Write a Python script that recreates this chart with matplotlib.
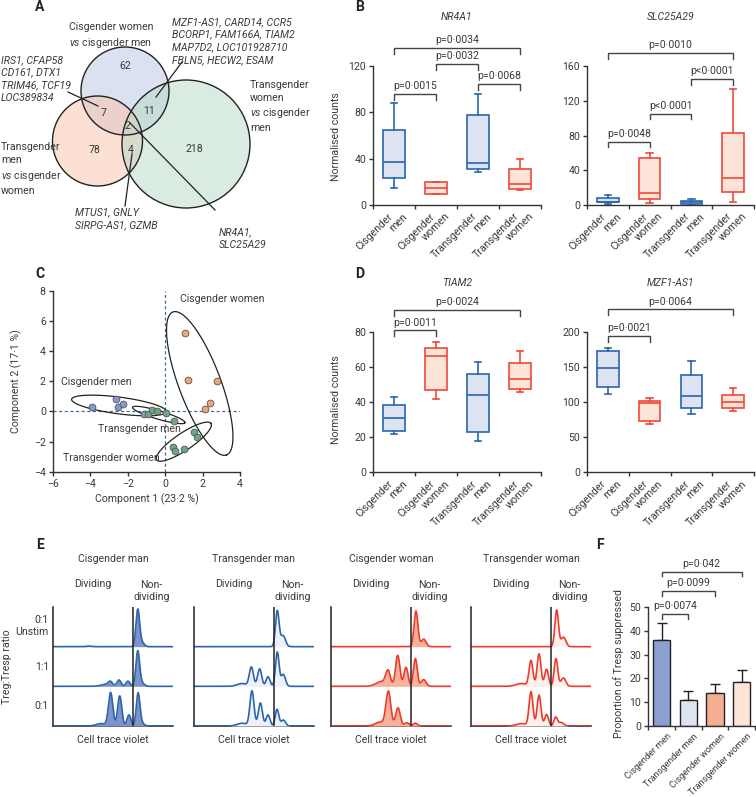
import numpy as np
import matplotlib
matplotlib.use('Agg')
import matplotlib.pyplot as plt
from matplotlib.patches import Circle

plt.rcParams['font.family'] = ['Roboto', 'DejaVu Sans']
plt.rcParams['mathtext.fontset'] = 'custom'
plt.rcParams['mathtext.it'] = 'Roboto:italic'
plt.rcParams['mathtext.rm'] = 'Roboto'

# ----------------------------- data -----------------------------
venn_counts = [62, 78, 218, 7, 11, 4, 2]   # cisW-cisM, transM-cisW, transW-cisM, AB, AC, BC, ABC
venn_sets = ['Cisgender women\n$\\it{vs}$ cisgender men',
             'Transgender\nmen\n$\\it{vs}$ cisgender\nwomen',
             'Transgender\nwomen\n$\\it{vs}$ cisgender\nmen']
venn_genes_ab = 'IRS1, CFAP58\nCD161, DTX1\nTRIM46, TCF19\nLOC389834'
venn_genes_ac = 'MZF1-AS1, CARD14, CCR5\nBCORP1, FAM166A, TIAM2\nMAP7D2, LOC101928710\nFBLN5, HECW2, ESAM'
venn_genes_bc = 'MTUS1, GNLY\nSIRPG-AS1, GZMB'
venn_genes_abc = 'NR4A1,\nSLC25A29'

group_words = [('Cisgender', 'men'), ('Cisgender', 'women'),
               ('Transgender', 'men'), ('Transgender', 'women')]
group_sex = ['m', 'w', 'm', 'w']

nr4a1_whislo = [15, 9.5, 28.5, 13]
nr4a1_q1 = [23.5, 9.5, 31, 14]
nr4a1_med = [37, 14.5, 36, 18]
nr4a1_q3 = [65, 20, 78, 31]
nr4a1_whishi = [88, 20, 96, 40]
nr4a1_brackets = [(0, 3, 135.5, 'p=0·0034'), (1, 2, 121.7, 'p=0·0032'),
                  (0, 1, 95.8, 'p=0·0015'), (2, 3, 104.5, 'p=0·0068')]

slc_whislo = [1, 2, 0.5, 3]
slc_q1 = [3, 6.5, 1.5, 15]
slc_med = [4, 14, 3, 31]
slc_q3 = [8.5, 54, 5, 82.5]
slc_whishi = [12, 60, 7, 133]
slc_brackets = [(0, 3, 175, 'p=0·0010'), (2, 3, 145, 'p<0·0001'),
                (1, 2, 105, 'p<0·0001'), (0, 1, 73, 'p=0·0048')]

tiam_whislo = [22, 41.5, 18, 45.5]
tiam_q1 = [23.5, 47, 22.8, 47.4]
tiam_med = [31, 66, 44, 53]
tiam_q3 = [38.3, 71, 56, 62]
tiam_whishi = [43, 74.3, 63, 69]
tiam_brackets = [(0, 3, 92.4, 'p=0·0024'), (0, 1, 80.8, 'p=0·0011')]

mzf_whislo = [112, 68, 82.5, 87]
mzf_q1 = [122, 73.5, 91, 92]
mzf_med = [149, 98, 108.5, 100]
mzf_q3 = [172.5, 102, 139, 110]
mzf_whishi = [177, 105, 159, 120]
mzf_brackets = [(0, 3, 231.7, 'p=0·0064'), (0, 1, 193.8, 'p=0·0021')]

pca_cis_men_x = [-3.92, -2.6, -2.5, -2.26, -1.12]
pca_cis_men_y = [0.31, 0.84, 0.27, 0.49, -0.2]
pca_trans_men_x = [-0.93, -0.71, -0.45, 0.05, 0.48]
pca_trans_men_y = [-0.18, 0.09, 0.0, -0.13, -0.64]
pca_trans_women_x = [1.56, 1.72, 0.44, 0.53, 0.99]
pca_trans_women_y = [-1.37, -1.68, -2.34, -2.61, -2.5]
pca_cis_women_x = [1.06, 1.24, 2.79, 2.42, 2.11]
pca_cis_women_y = [5.17, 2.06, 1.99, 0.53, 0.13]

# flow histogram peaks: (position, height, width) per row (0:1 Unstim, 1:1, 0:1)
hist_titles = ['Cisgender man', 'Transgender man', 'Cisgender woman', 'Transgender woman']
hist_cis_man = [
    [(0.706, 0.90, 0.015), (0.735, 0.12, 0.022), (0.30, 0.015, 0.02)],
    [(0.44, 0.05, 0.04), (0.478, 0.10, 0.017), (0.55, 0.16, 0.017), (0.625, 0.13, 0.017),
     (0.706, 0.86, 0.015), (0.735, 0.10, 0.022)],
    [(0.40, 0.06, 0.04), (0.48, 0.84, 0.018), (0.556, 0.76, 0.017), (0.633, 0.28, 0.016),
     (0.709, 0.80, 0.015), (0.735, 0.08, 0.022)]]
hist_trans_man = [
    [(0.694, 0.90, 0.015), (0.742, 0.28, 0.02)],
    [(0.40, 0.07, 0.04), (0.478, 0.48, 0.017), (0.547, 0.44, 0.017), (0.617, 0.24, 0.016),
     (0.694, 0.86, 0.015), (0.744, 0.30, 0.018)],
    [(0.40, 0.07, 0.04), (0.483, 0.88, 0.017), (0.553, 0.58, 0.017), (0.617, 0.28, 0.016),
     (0.692, 0.42, 0.015), (0.744, 0.15, 0.018)]]
hist_cis_woman = [
    [(0.708, 0.90, 0.016), (0.772, 0.19, 0.02)],
    [(0.42, 0.12, 0.045), (0.475, 0.36, 0.019), (0.556, 0.78, 0.018), (0.625, 0.48, 0.017),
     (0.703, 0.70, 0.016), (0.772, 0.17, 0.02)],
    [(0.41, 0.10, 0.04), (0.478, 0.86, 0.02), (0.558, 0.46, 0.019), (0.633, 0.08, 0.02),
     (0.703, 0.07, 0.017)]]
hist_trans_woman = [
    [(0.714, 0.92, 0.015), (0.77, 0.24, 0.02)],
    [(0.42, 0.07, 0.045), (0.50, 0.64, 0.016), (0.567, 0.82, 0.016), (0.63, 0.43, 0.016),
     (0.708, 0.70, 0.015), (0.77, 0.21, 0.02)],
    [(0.42, 0.06, 0.04), (0.50, 0.86, 0.016), (0.567, 0.78, 0.016), (0.63, 0.29, 0.016),
     (0.706, 0.22, 0.015), (0.752, 0.09, 0.02)]]
hist_row_labels = ['0:1\nUnstim', '1:1', '0:1']

f_groups = ['Cisgender men', 'Transgender men', 'Cisgender women', 'Transgender women']
f_means = [36.2, 10.8, 13.8, 18.3]
f_err = [7.0, 3.8, 3.8, 5.1]
f_brackets = [(0, 1, 47.2, 'p=0·0074'), (0, 2, 56.9, 'p=0·0099'), (0, 3, 65.1, 'p=0·042')]

# ----------------------------- style -----------------------------
W, H = 756, 797
TXT = '#3a3a3a'
AX = '#333333'
BLUE_E, BLUE_F = '#2a66b0', '#dde3f1'
RED_E, RED_F = '#f0483b', '#fde4d8'
FS = 7.6

fig = plt.figure(figsize=(W / 100, H / 100), dpi=100)
fig.patch.set_facecolor('white')


def px_axes(x0, y0, x1, y1, **kw):
    return fig.add_axes([x0 / W, 1 - y1 / H, (x1 - x0) / W, (y1 - y0) / H], **kw)


# overlay in pixel coordinates
ov = px_axes(0, 0, W, H)
ov.set_xlim(0, W)
ov.set_ylim(H, 0)
ov.axis('off')


def t(x, y, s, **kw):
    kw.setdefault('fontsize', FS)
    kw.setdefault('color', TXT)
    kw.setdefault('va', 'center')
    ov.text(x, y, s, **kw)


for lab, (x, y) in zip('ABCDEF', [(40, 7), (360, 7), (40, 274), (360, 274), (40, 545), (600, 545)]):
    t(x, y, lab, fontsize=10, fontweight='bold', ha='center', color='#222222')

# ----------------------------- A: Venn -----------------------------
circ_geo = [((125, 91), 44, '#b9c5e2'), ((97.5, 141), 45, '#fbc3a8'), ((186, 144), 64, '#b6d8c4')]
for (c, r, col) in circ_geo:
    ov.add_patch(Circle(c, r, facecolor=col, alpha=0.5, edgecolor='none', zorder=1))
for (c, r, col) in circ_geo:
    ov.add_patch(Circle(c, r, facecolor='none', edgecolor='#222222', lw=1.0, zorder=2))
count_pos = [(125, 66), (94, 150), (194, 149), (103, 113), (149, 111), (131, 150), (127, 126)]
for n, (x, y) in zip(venn_counts, count_pos):
    t(x, y, str(n), ha='center', zorder=3)
t(69, 36, venn_sets[0], ha='left', linespacing=1.35)
t(1, 169, venn_sets[1], ha='left', linespacing=1.35)
t(250, 106.5, venn_sets[2], ha='left', linespacing=1.35)
t(1, 79, venn_genes_ab, ha='left', style='italic', linespacing=1.35)
t(172, 41, venn_genes_ac, ha='left', style='italic', linespacing=1.35)
t(75, 219, venn_genes_bc, ha='left', style='italic', linespacing=1.35)
t(219, 239, venn_genes_abc, ha='left', style='italic', linespacing=1.35)
for (x0, y0, x1, y1) in [(68, 92, 98, 106), (182, 62, 156, 97), (132, 154, 125, 206), (130, 123, 215, 210)]:
    ov.plot([x0, x1], [y0, y1], color='#222222', lw=0.9, zorder=4)


# ----------------------------- helpers -----------------------------
def style_axes(ax):
    for s in ['top', 'right']:
        ax.spines[s].set_visible(False)
    for s in ['left', 'bottom']:
        ax.spines[s].set_color(AX)
        ax.spines[s].set_linewidth(1.0)
    ax.tick_params(direction='out', length=3, width=1.0, color=AX, labelsize=FS,
                   labelcolor=TXT, pad=2)
    ax.patch.set_alpha(0)


def bracket(ax, i, j, y, label, leg):
    ax.plot([i, i, j, j], [y - leg, y, y, y - leg], color='#444444', lw=1.0,
            clip_on=False, solid_joinstyle='miter')
    ax.annotate(label, xy=((i + j) / 2, y), xytext=(0, 2.0), textcoords='offset points',
                ha='center', va='bottom', fontsize=FS, color=TXT, annotation_clip=False)


def boxpanel(box, whislo, q1, med, q3, whishi, brackets, yticks, title, ylab=None, ylab_y=None):
    ax = px_axes(*box)
    style_axes(ax)
    stats = [dict(whislo=a, q1=b, med=c, q3=d, whishi=e, fliers=[])
             for a, b, c, d, e in zip(whislo, q1, med, q3, whishi)]
    for k, st in enumerate(stats):
        ec, fc = (BLUE_E, BLUE_F) if group_sex[k] == 'm' else (RED_E, RED_F)
        ax.bxp([st], positions=[k], widths=0.52, patch_artist=True, showfliers=False,
               capwidths=[0.16],
               boxprops=dict(facecolor=fc, edgecolor=ec, lw=1.2),
               medianprops=dict(color=ec, lw=1.2),
               whiskerprops=dict(color=ec, lw=1.2),
               capprops=dict(color=ec, lw=1.2))
    ax.set_xlim(-0.5, 3.5)
    ax.set_ylim(0, yticks[-1])
    ax.set_yticks(yticks)
    ax.set_xticks([-0.5, 0.5, 1.5, 2.5, 3.5])
    ax.set_xticklabels([])
    leg = 0.04 * yticks[-1]
    for (i, j, y, lab) in brackets:
        bracket(ax, i, j, y, lab, leg)
    tr = ax.get_xaxis_transform()
    for k, (w1, w2) in enumerate(group_words):
        ax.text(k - 0.16, -0.045, w1, transform=tr, rotation=45, ha='right', va='top',
                rotation_mode='anchor', fontsize=FS, color=TXT)
        ax.text(k + 0.2, -0.045, w2, transform=tr, rotation=45, ha='right', va='top',
                rotation_mode='anchor', fontsize=FS, color=TXT)
    x0, y0, x1, y1 = box
    t((x0 + x1) / 2, 17 if y0 < 200 else 283, title, ha='center', style='italic')
    if ylab:
        t(336, ylab_y, ylab, ha='center', rotation=90)
    return ax


# ----------------------------- B / D -----------------------------
boxpanel((373, 66, 541, 205), nr4a1_whislo, nr4a1_q1, nr4a1_med, nr4a1_q3, nr4a1_whishi,
         nr4a1_brackets, [0, 40, 80, 120], 'NR4A1', 'Normalised counts', 137)
boxpanel((587, 66, 754, 205), slc_whislo, slc_q1, slc_med, slc_q3, slc_whishi,
         slc_brackets, [0, 40, 80, 120, 160], 'SLC25A29')
boxpanel((373, 331.7, 541, 472.3), tiam_whislo, tiam_q1, tiam_med, tiam_q3, tiam_whishi,
         tiam_brackets, [0, 20, 40, 60, 80], 'TIAM2', 'Normalised counts', 400)
boxpanel((587, 331.7, 754, 472.3), mzf_whislo, mzf_q1, mzf_med, mzf_q3, mzf_whishi,
         mzf_brackets, [0, 50, 100, 150, 200], 'MZF1-AS1')

# ----------------------------- C: PCA -----------------------------
axc = px_axes(52.7, 290.7, 240, 471.7)
style_axes(axc)
axc.set_xlim(-6, 4)
axc.set_ylim(-4, 8)
axc.set_xticks([-6, -4, -2, 0, 2, 4])
axc.set_yticks([-4, -2, 0, 2, 4, 6, 8])
axc.axhline(0, color='#3f6f9f', lw=0.9, ls=(0, (2.5, 2)), zorder=1)
axc.axvline(0, color='#3f6f9f', lw=0.9, ls=(0, (2.5, 2)), zorder=1)
for xs, ys, col in [(pca_cis_men_x, pca_cis_men_y, '#8597cf'),
                    (pca_trans_men_x, pca_trans_men_y, '#6aa783'),
                    (pca_trans_women_x, pca_trans_women_y, '#6aa783'),
                    (pca_cis_women_x, pca_cis_women_y, '#f3a27c')]:
    axc.scatter(xs, ys, s=24, c=col, edgecolors='#555555', linewidths=0.6, zorder=3, clip_on=False)
# ellipses: centre, major half-vector, minor half-vector (data units)
ell_geo = [((-2.46, 0.39), (2.53, -0.41), (-0.06, -0.55)),
           ((-0.34, -0.24), (1.40, -0.51), (-0.06, -0.27)),
           ((1.85, 1.85), (1.43, -4.74), (1.05, 0.49)),
           ((1.0, -2.01), (1.45, 1.21), (0.26, -0.47))]
tt = np.linspace(0, 2 * np.pi, 200)
for (c, a, b) in ell_geo:
    axc.plot(c[0] + a[0] * np.cos(tt) + b[0] * np.sin(tt),
             c[1] + a[1] * np.cos(tt) + b[1] * np.sin(tt), color='#222222', lw=0.9, zorder=2)
for s, x, y in [('Cisgender women', 0.8, 7.43), ('Cisgender men', -5.57, 1.97),
                ('Transgender men', -3.56, -1.19), ('Transgender women', -5.43, -3.12)]:
    axc.text(x, y, s, fontsize=FS, color=TXT, ha='left', va='center', zorder=4)
t(146.5, 499, 'Component 1 (23·2 %)', ha='center')
t(16, 381, 'Component 2 (17·1 %)', ha='center', rotation=90)

# ----------------------------- E: histograms -----------------------------
hist_sets = [hist_cis_man, hist_trans_man, hist_cis_woman, hist_trans_woman]
hist_style = [(BLUE_E, '#7e93c9'), (BLUE_E, '#eef1f9'), ('#ee3b2d', '#f6b19b'), ('#ee3b2d', '#fdf0ec')]
xs = np.linspace(0, 1, 500)
for p, x0 in enumerate([53, 194, 331, 471]):
    ax = px_axes(x0, 607, x0 + 120, 726)
    for s in ['top', 'right']:
        ax.spines[s].set_visible(False)
    for s in ['left', 'bottom']:
        ax.spines[s].set_color('#222222')
        ax.spines[s].set_linewidth(1.1)
    ax.set_xticks([])
    ax.set_yticks([])
    ax.patch.set_alpha(0)
    ax.set_xlim(0, 1)
    ax.set_ylim(0, 3)
    lc, fc = hist_style[p]
    for r, peaks in enumerate(hist_sets[p]):
        base = 2 - r
        y = np.zeros_like(xs)
        for (m, h, w) in peaks:
            y += h * np.exp(-0.5 * ((xs - m) / w) ** 2)
        ax.fill_between(xs, base, base + y, color=fc, lw=0, zorder=1 + r)
        ax.plot(xs, base + y, color=lc, lw=1.2, zorder=1.5 + r)
    ax.axvline(2 / 3, color='#222222', lw=1.1, zorder=10)
    cx = x0 + 60
    t(cx, 559, hist_titles[p], ha='center')
    t(x0 + 0.33 * 120, 584, 'Dividing', ha='center')
    t(x0 + 0.82 * 120, 591, 'Non-\ndividing', ha='center', linespacing=1.25)
    t(cx, 740, 'Cell trace violet', ha='center')
t(49, 626, hist_row_labels[0], ha='right', linespacing=1.2)
t(49, 667, hist_row_labels[1], ha='right')
t(49, 706, hist_row_labels[2], ha='right')
t(7, 667, 'Treg:Tresp ratio', ha='center', rotation=90)

# ----------------------------- F: bars -----------------------------
axf = px_axes(648.3, 607.3, 755, 725.7)
style_axes(axf)
f_cols = ['#8b9fd1', '#dde3f1', '#f6ae93', '#fde5d8']
axf.bar(range(4), f_means, width=0.64, color=f_cols, edgecolor='#222222', lw=1.0, zorder=2)
axf.errorbar(range(4), f_means, yerr=[[0] * 4, f_err], fmt='none', ecolor='#222222',
             elinewidth=1.0, capsize=3.5, capthick=1.0, zorder=1)
axf.set_xlim(-0.5, 3.5)
axf.set_ylim(0, 50)
axf.set_yticks([0, 10, 20, 30, 40, 50])
axf.set_xticks([-0.5, 0.5, 1.5, 2.5, 3.5])
axf.set_xticklabels([])
for (i, j, y, lab) in f_brackets:
    bracket(axf, i, j, y, lab, 2.0)
trf = axf.get_xaxis_transform()
for k, g in enumerate(f_groups):
    axf.text(k + 0.2, -0.05, g, transform=trf, rotation=45, ha='right', va='top',
             rotation_mode='anchor', fontsize=6.6, color=TXT)
t(619, 663, 'Proportion of Tresp suppressed', ha='center', rotation=90)

fig.savefig('out.png', dpi=100, facecolor='white')
